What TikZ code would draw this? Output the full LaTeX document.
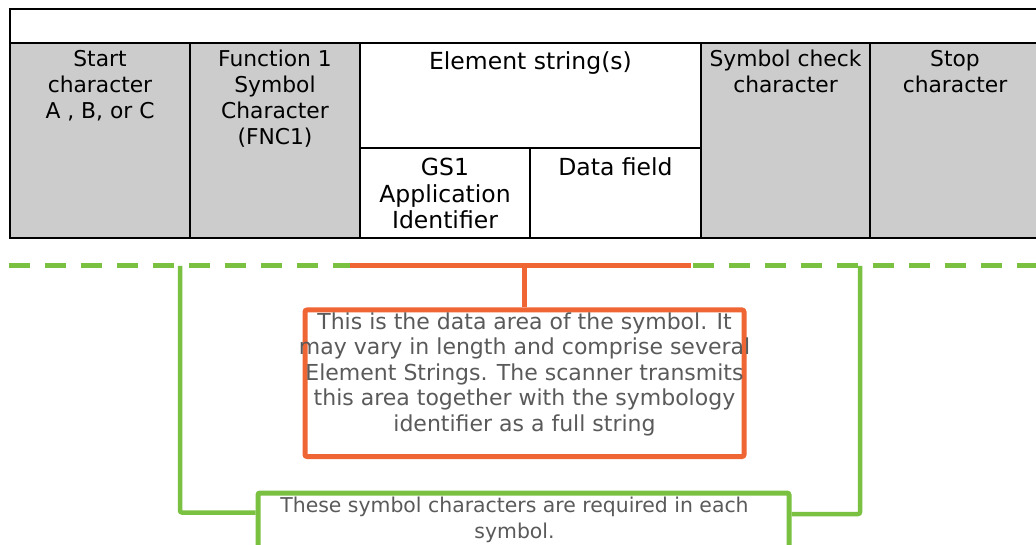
\documentclass[tikz,border=0pt]{standalone}
\usepackage{fontspec}
\setmainfont{DejaVu Sans}
\definecolor{cellgray}{RGB}{204,204,204}
\definecolor{lgreen}{RGB}{122,193,66}
\definecolor{lorange}{RGB}{240,101,52}
\definecolor{notegray}{RGB}{90,90,90}
\newcommand\fsA{\fontsize{21.8pt}{26pt}\selectfont}
\newcommand\fsB{\fontsize{23.5pt}{26.5pt}\selectfont}
\newcommand\fsN{\fontsize{22pt}{25.5pt}\selectfont}
\newcommand\fsG{\fontsize{20.4pt}{26pt}\selectfont}
\begin{document}
\begin{tikzpicture}[x=1pt,y=-1pt,
  cell/.style={draw=black, line width=2pt, anchor=north west, inner sep=0pt, outer sep=0pt, fill=white},
  gcell/.style={cell, fill=cellgray},
  lab/.style={anchor=north, align=center, inner sep=0pt, text=black},
  note/.style={anchor=north, align=center, inner sep=0pt, text=notegray, font=\fsN},
  greenline/.style={draw=lgreen, line width=5pt},
  greenconn/.style={draw=lgreen, line width=4.5pt, rounded corners=2pt},
  orangeline/.style={draw=lorange, line width=5pt},
  ]
\useasboundingbox (0,0) rectangle (1036,545);
\clip (0,0) rectangle (1036,545);
% table
\node[cell, minimum width=1040pt, minimum height=34pt] (top) at (10,9) {};
\node[gcell, minimum width=180pt, minimum height=195pt] (start) at (10,43) {};
\node[gcell, minimum width=170pt, minimum height=195pt] (fnc) at (190,43) {};
\node[cell, minimum width=341pt, minimum height=105pt] (elem) at (360,43) {};
\node[cell, minimum width=170pt, minimum height=90pt] (ai) at (360,148) {};
\node[cell, minimum width=171pt, minimum height=90pt] (data) at (530,148) {};
\node[gcell, minimum width=169pt, minimum height=195pt] (check) at (701,43) {};
\node[gcell, minimum width=170pt, minimum height=195pt] (stop) at (870,43) {};
% labels
\node[lab, font=\fsA] (tstart) at ([yshift=-4.8pt]start.north) {\strut Start\\character\\A , B, or C};
\node[lab, font=\fsA] (tfnc) at ([yshift=-4.8pt]fnc.north) {\strut Function 1\\Symbol\\Character\\(FNC1)};
\node[lab, font=\fsB] (telem) at ([yshift=-7.4pt]elem.north) {\strut Element string(s)};
\node[lab, font=\fsB] (tai) at ([yshift=-9pt]ai.north) {\strut GS1\\Application\\Identifier};
\node[lab, font=\fsB] (tdata) at ([yshift=-8.5pt]data.north) {\strut Data field};
\node[lab, font=\fsA] (tcheck) at ([yshift=-4.8pt]check.north) {\strut Symbol check\\character};
\node[lab, font=\fsA] (tstop) at ([yshift=-4.8pt]stop.north) {\strut Stop\\character};
% bracket line
\coordinate (dl0) at (9,266);
\coordinate (dl1) at (1040,266);
\coordinate (o0) at (350,266);
\coordinate (o1) at (691,266);
\coordinate (gl) at (180,266);
\coordinate (gr) at (860,266);
\draw[greenline, dash pattern=on 21pt off 15pt] (dl0) -- (dl1);
\draw[orangeline] (o0) -- (o1);
% note boxes
\node[draw=lorange, line width=5pt, fill=white, rounded corners=2pt, anchor=north west, inner sep=0pt,
  minimum width=439pt, minimum height=146.5pt] (obox) at (302.5,307.5) {};
\node[draw=lgreen, line width=5pt, fill=white, rounded corners=2pt, anchor=north west, inner sep=0pt,
  minimum width=531pt, minimum height=56pt] (gbox) at (255.5,490.5) {};
% connectors
\draw[draw=lorange, line width=4.5pt] (obox.north) -- (obox.north |- o0);
\draw[greenconn] (gl) |- ([yshift=-22pt]gbox.north west);
\draw[greenconn] (gr) |- ([yshift=-23.5pt]gbox.north east);
% note texts
\node[note] (otext) at ([yshift=-3.7pt]obox.north) {\strut This is the data area of the symbol. It\\may vary in length and comprise several\\Element Strings. The scanner transmits\\this area together with the symbology\\identifier as a full string};
\node[note, font=\fsG] (gtext) at ([xshift=-9pt,yshift=-3.5pt]gbox.north) {\strut These symbol characters are required in each\\symbol.};
\end{tikzpicture}
\end{document}
